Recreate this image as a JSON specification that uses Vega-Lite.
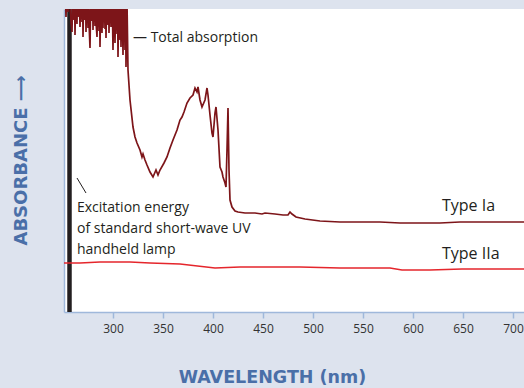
{
  "$schema": "https://vega.github.io/schema/vega-lite/v6.json",
  "width": 460,
  "height": 303,
  "autosize": {"type": "none"},
  "padding": {"left": 64, "top": 9, "right": 0, "bottom": 76},
  "background": "#dde3ee",
  "config": {
    "view": {"fill": "white", "stroke": null},
    "font": "Open Sans"
  },
  "datasets": {
    "spectra": [
      {"series": "Type Ia", "nm": 252, "a": 330}, {"series": "Type Ia", "nm": 253, "a": 295}, {"series": "Type Ia", "nm": 254, "a": 330},
      {"series": "Type Ia", "nm": 255, "a": 300}, {"series": "Type Ia", "nm": 256, "a": 330},
      {"series": "Type Ia", "nm": 258, "a": 290}, {"series": "Type Ia", "nm": 259, "a": 280}, {"series": "Type Ia", "nm": 260, "a": 330},
      {"series": "Type Ia", "nm": 261, "a": 292}, {"series": "Type Ia", "nm": 261.5, "a": 330},
      {"series": "Type Ia", "nm": 262, "a": 277}, {"series": "Type Ia", "nm": 263, "a": 330}, {"series": "Type Ia", "nm": 264, "a": 288},
      {"series": "Type Ia", "nm": 264.5, "a": 330}, {"series": "Type Ia", "nm": 265, "a": 295},
      {"series": "Type Ia", "nm": 266, "a": 330}, {"series": "Type Ia", "nm": 267, "a": 285}, {"series": "Type Ia", "nm": 268, "a": 330},
      {"series": "Type Ia", "nm": 269, "a": 290}, {"series": "Type Ia", "nm": 269.5, "a": 330},
      {"series": "Type Ia", "nm": 270, "a": 275}, {"series": "Type Ia", "nm": 271, "a": 330}, {"series": "Type Ia", "nm": 272, "a": 292},
      {"series": "Type Ia", "nm": 272.5, "a": 330}, {"series": "Type Ia", "nm": 273, "a": 280},
      {"series": "Type Ia", "nm": 274, "a": 330}, {"series": "Type Ia", "nm": 275, "a": 284}, {"series": "Type Ia", "nm": 275.5, "a": 330},
      {"series": "Type Ia", "nm": 276, "a": 290}, {"series": "Type Ia", "nm": 277, "a": 264},
      {"series": "Type Ia", "nm": 278, "a": 330}, {"series": "Type Ia", "nm": 279, "a": 291}, {"series": "Type Ia", "nm": 279.5, "a": 330},
      {"series": "Type Ia", "nm": 280, "a": 282}, {"series": "Type Ia", "nm": 281, "a": 330},
      {"series": "Type Ia", "nm": 282, "a": 286}, {"series": "Type Ia", "nm": 282.5, "a": 330},
      {"series": "Type Ia", "nm": 283, "a": 290}, {"series": "Type Ia", "nm": 284, "a": 275}, {"series": "Type Ia", "nm": 285, "a": 330},
      {"series": "Type Ia", "nm": 286, "a": 281}, {"series": "Type Ia", "nm": 286.5, "a": 330},
      {"series": "Type Ia", "nm": 287, "a": 265}, {"series": "Type Ia", "nm": 288, "a": 330}, {"series": "Type Ia", "nm": 289, "a": 279},
      {"series": "Type Ia", "nm": 289.5, "a": 330}, {"series": "Type Ia", "nm": 290, "a": 284},
      {"series": "Type Ia", "nm": 291, "a": 330}, {"series": "Type Ia", "nm": 292, "a": 283}, {"series": "Type Ia", "nm": 292.5, "a": 330},
      {"series": "Type Ia", "nm": 293, "a": 274}, {"series": "Type Ia", "nm": 294, "a": 330},
      {"series": "Type Ia", "nm": 295, "a": 287}, {"series": "Type Ia", "nm": 295.5, "a": 330},
      {"series": "Type Ia", "nm": 296, "a": 279}, {"series": "Type Ia", "nm": 297, "a": 330}, {"series": "Type Ia", "nm": 298, "a": 285},
      {"series": "Type Ia", "nm": 299, "a": 330},
      {"series": "Type Ia", "nm": 300, "a": 262}, {"series": "Type Ia", "nm": 301, "a": 330}, {"series": "Type Ia", "nm": 302, "a": 269},
      {"series": "Type Ia", "nm": 303, "a": 330}, {"series": "Type Ia", "nm": 304, "a": 278}, {"series": "Type Ia", "nm": 304.5, "a": 330},
      {"series": "Type Ia", "nm": 305, "a": 255}, {"series": "Type Ia", "nm": 306, "a": 330},
      {"series": "Type Ia", "nm": 307, "a": 272}, {"series": "Type Ia", "nm": 307.5, "a": 330},
      {"series": "Type Ia", "nm": 308, "a": 265}, {"series": "Type Ia", "nm": 309, "a": 330}, {"series": "Type Ia", "nm": 310, "a": 257},
      {"series": "Type Ia", "nm": 311, "a": 330}, {"series": "Type Ia", "nm": 312, "a": 262}, {"series": "Type Ia", "nm": 312.5, "a": 330},
      {"series": "Type Ia", "nm": 313, "a": 245}, {"series": "Type Ia", "nm": 314, "a": 310},
      {"series": "Type Ia", "nm": 315, "a": 242}, {"series": "Type Ia", "nm": 317, "a": 212}, {"series": "Type Ia", "nm": 320, "a": 185},
      {"series": "Type Ia", "nm": 322, "a": 175}, {"series": "Type Ia", "nm": 324, "a": 169}, {"series": "Type Ia", "nm": 327, "a": 162},
      {"series": "Type Ia", "nm": 329, "a": 155}, {"series": "Type Ia", "nm": 330, "a": 158}, {"series": "Type Ia", "nm": 332, "a": 152},
      {"series": "Type Ia", "nm": 334, "a": 147}, {"series": "Type Ia", "nm": 337, "a": 140}, {"series": "Type Ia", "nm": 340, "a": 135},
      {"series": "Type Ia", "nm": 343, "a": 142}, {"series": "Type Ia", "nm": 345, "a": 137}, {"series": "Type Ia", "nm": 347, "a": 142},
      {"series": "Type Ia", "nm": 351, "a": 149}, {"series": "Type Ia", "nm": 354, "a": 155}, {"series": "Type Ia", "nm": 357, "a": 164},
      {"series": "Type Ia", "nm": 360, "a": 172}, {"series": "Type Ia", "nm": 364, "a": 182}, {"series": "Type Ia", "nm": 367, "a": 192},
      {"series": "Type Ia", "nm": 369, "a": 195}, {"series": "Type Ia", "nm": 371, "a": 200}, {"series": "Type Ia", "nm": 374, "a": 209},
      {"series": "Type Ia", "nm": 377, "a": 214}, {"series": "Type Ia", "nm": 380, "a": 217}, {"series": "Type Ia", "nm": 382, "a": 224},
      {"series": "Type Ia", "nm": 384, "a": 220}, {"series": "Type Ia", "nm": 385, "a": 225}, {"series": "Type Ia", "nm": 387, "a": 212},
      {"series": "Type Ia", "nm": 389, "a": 205}, {"series": "Type Ia", "nm": 392, "a": 212}, {"series": "Type Ia", "nm": 394, "a": 224},
      {"series": "Type Ia", "nm": 395, "a": 217}, {"series": "Type Ia", "nm": 397, "a": 197}, {"series": "Type Ia", "nm": 399, "a": 179},
      {"series": "Type Ia", "nm": 400, "a": 175}, {"series": "Type Ia", "nm": 402, "a": 199}, {"series": "Type Ia", "nm": 403, "a": 205},
      {"series": "Type Ia", "nm": 405, "a": 182}, {"series": "Type Ia", "nm": 407, "a": 145}, {"series": "Type Ia", "nm": 409, "a": 140},
      {"series": "Type Ia", "nm": 410, "a": 135}, {"series": "Type Ia", "nm": 412, "a": 129}, {"series": "Type Ia", "nm": 413, "a": 125},
      {"series": "Type Ia", "nm": 414, "a": 162}, {"series": "Type Ia", "nm": 415, "a": 204}, {"series": "Type Ia", "nm": 416, "a": 142},
      {"series": "Type Ia", "nm": 417, "a": 112}, {"series": "Type Ia", "nm": 419, "a": 105}, {"series": "Type Ia", "nm": 422, "a": 101},
      {"series": "Type Ia", "nm": 425, "a": 100}, {"series": "Type Ia", "nm": 432, "a": 99}, {"series": "Type Ia", "nm": 442, "a": 99},
      {"series": "Type Ia", "nm": 449, "a": 98}, {"series": "Type Ia", "nm": 452, "a": 99}, {"series": "Type Ia", "nm": 462, "a": 98},
      {"series": "Type Ia", "nm": 470, "a": 97}, {"series": "Type Ia", "nm": 475, "a": 97}, {"series": "Type Ia", "nm": 477, "a": 100},
      {"series": "Type Ia", "nm": 479, "a": 98}, {"series": "Type Ia", "nm": 483, "a": 95}, {"series": "Type Ia", "nm": 492, "a": 93},
      {"series": "Type Ia", "nm": 507, "a": 91}, {"series": "Type Ia", "nm": 527, "a": 90}, {"series": "Type Ia", "nm": 547, "a": 90},
      {"series": "Type Ia", "nm": 567, "a": 90}, {"series": "Type Ia", "nm": 587, "a": 89}, {"series": "Type Ia", "nm": 607, "a": 89},
      {"series": "Type Ia", "nm": 627, "a": 89}, {"series": "Type Ia", "nm": 647, "a": 90}, {"series": "Type Ia", "nm": 667, "a": 90},
      {"series": "Type Ia", "nm": 687, "a": 90}, {"series": "Type Ia", "nm": 711, "a": 90},
      {"series": "Type IIa", "nm": 251, "a": 49}, {"series": "Type IIa", "nm": 267, "a": 49}, {"series": "Type IIa", "nm": 287, "a": 50},
      {"series": "Type IIa", "nm": 317, "a": 50}, {"series": "Type IIa", "nm": 337, "a": 49}, {"series": "Type IIa", "nm": 367, "a": 48},
      {"series": "Type IIa", "nm": 402, "a": 44}, {"series": "Type IIa", "nm": 427, "a": 45}, {"series": "Type IIa", "nm": 449, "a": 45},
      {"series": "Type IIa", "nm": 487, "a": 45}, {"series": "Type IIa", "nm": 527, "a": 44}, {"series": "Type IIa", "nm": 577, "a": 44},
      {"series": "Type IIa", "nm": 589, "a": 42}, {"series": "Type IIa", "nm": 617, "a": 42}, {"series": "Type IIa", "nm": 649, "a": 43},
      {"series": "Type IIa", "nm": 687, "a": 43}, {"series": "Type IIa", "nm": 711, "a": 43}
    ],
    "notes": [
      {"label": "— Total absorption", "nm": 320, "a": 270, "size": 14},
      {"label": "Excitation energy", "nm": 264, "a": 100, "size": 14},
      {"label": "of standard short-wave UV", "nm": 264, "a": 79, "size": 14},
      {"label": "handheld lamp", "nm": 264, "a": 58, "size": 14},
      {"label": "Type Ia", "nm": 629, "a": 101, "size": 16},
      {"label": "Type IIa", "nm": 629, "a": 53, "size": 16}
    ]
  },
  "layer": [
    {
      "data": {"values": [{"nm": 256.5}]},
      "mark": {"type": "rule", "color": "#231f20", "strokeWidth": 4.5},
      "encoding": {
        "x": {"field": "nm", "type": "quantitative", "scale": {"domain": [251, 711], "nice": false, "zero": false}}
      }
    },
    {
      "data": {"name": "spectra"},
      "mark": {"type": "line", "clip": true, "strokeWidth": 1.7},
      "encoding": {
        "x": {
          "field": "nm", "type": "quantitative",
          "scale": {"domain": [251, 711], "nice": false, "zero": false},
          "axis": {
            "values": [300, 350, 400, 450, 500, 550, 600, 650, 700],
            "grid": false,
            "domainColor": "#9fb8db", "domainWidth": 1.5,
            "tickColor": "#9fb8db", "tickWidth": 1.5, "tickSize": 6,
            "labelColor": "#333333", "labelFontSize": 12, "labelPadding": 5,
            "labelFont": "Open Sans",
            "title": "WAVELENGTH (nm)",
            "titleColor": "#4a6fa8", "titleFontSize": 17.5, "titleFontWeight": "bold",
            "titleFont": "DejaVu Sans",
            "titleX": 208, "titleY": 65, "titleBaseline": "middle", "titleAlign": "center"
          }
        },
        "y": {
          "field": "a", "type": "quantitative",
          "scale": {"domain": [0, 303], "nice": false},
          "axis": {
            "labels": false, "ticks": false, "grid": false,
            "domainColor": "#9fb8db", "domainWidth": 1.5,
            "title": "ABSORBANCE ⟶",
            "titleColor": "#4a6fa8", "titleFontSize": 18, "titleFontWeight": "bold",
            "titleFont": "DejaVu Sans",
            "titleX": -43, "titleY": 151, "titleAngle": -90,
            "titleBaseline": "middle", "titleAlign": "center"
          }
        },
        "color": {
          "field": "series", "type": "nominal",
          "scale": {"domain": ["Type Ia", "Type IIa"], "range": ["#7d1519", "#e5262c"]},
          "legend": null
        }
      }
    },
    {
      "data": {"values": [{"nm": 264, "a": 134, "nm2": 273, "a2": 119}]},
      "mark": {"type": "rule", "color": "#231f20", "strokeWidth": 1},
      "encoding": {
        "x": {"field": "nm", "type": "quantitative"},
        "x2": {"field": "nm2"},
        "y": {"field": "a", "type": "quantitative"},
        "y2": {"field": "a2"}
      }
    },
    {
      "data": {"name": "notes"},
      "mark": {"type": "text", "align": "left", "baseline": "alphabetic", "color": "#231f20", "font": "Open Sans"},
      "encoding": {
        "x": {"field": "nm", "type": "quantitative"},
        "y": {"field": "a", "type": "quantitative"},
        "text": {"field": "label"},
        "size": {"field": "size", "type": "quantitative", "scale": null}
      }
    }
  ]
}
